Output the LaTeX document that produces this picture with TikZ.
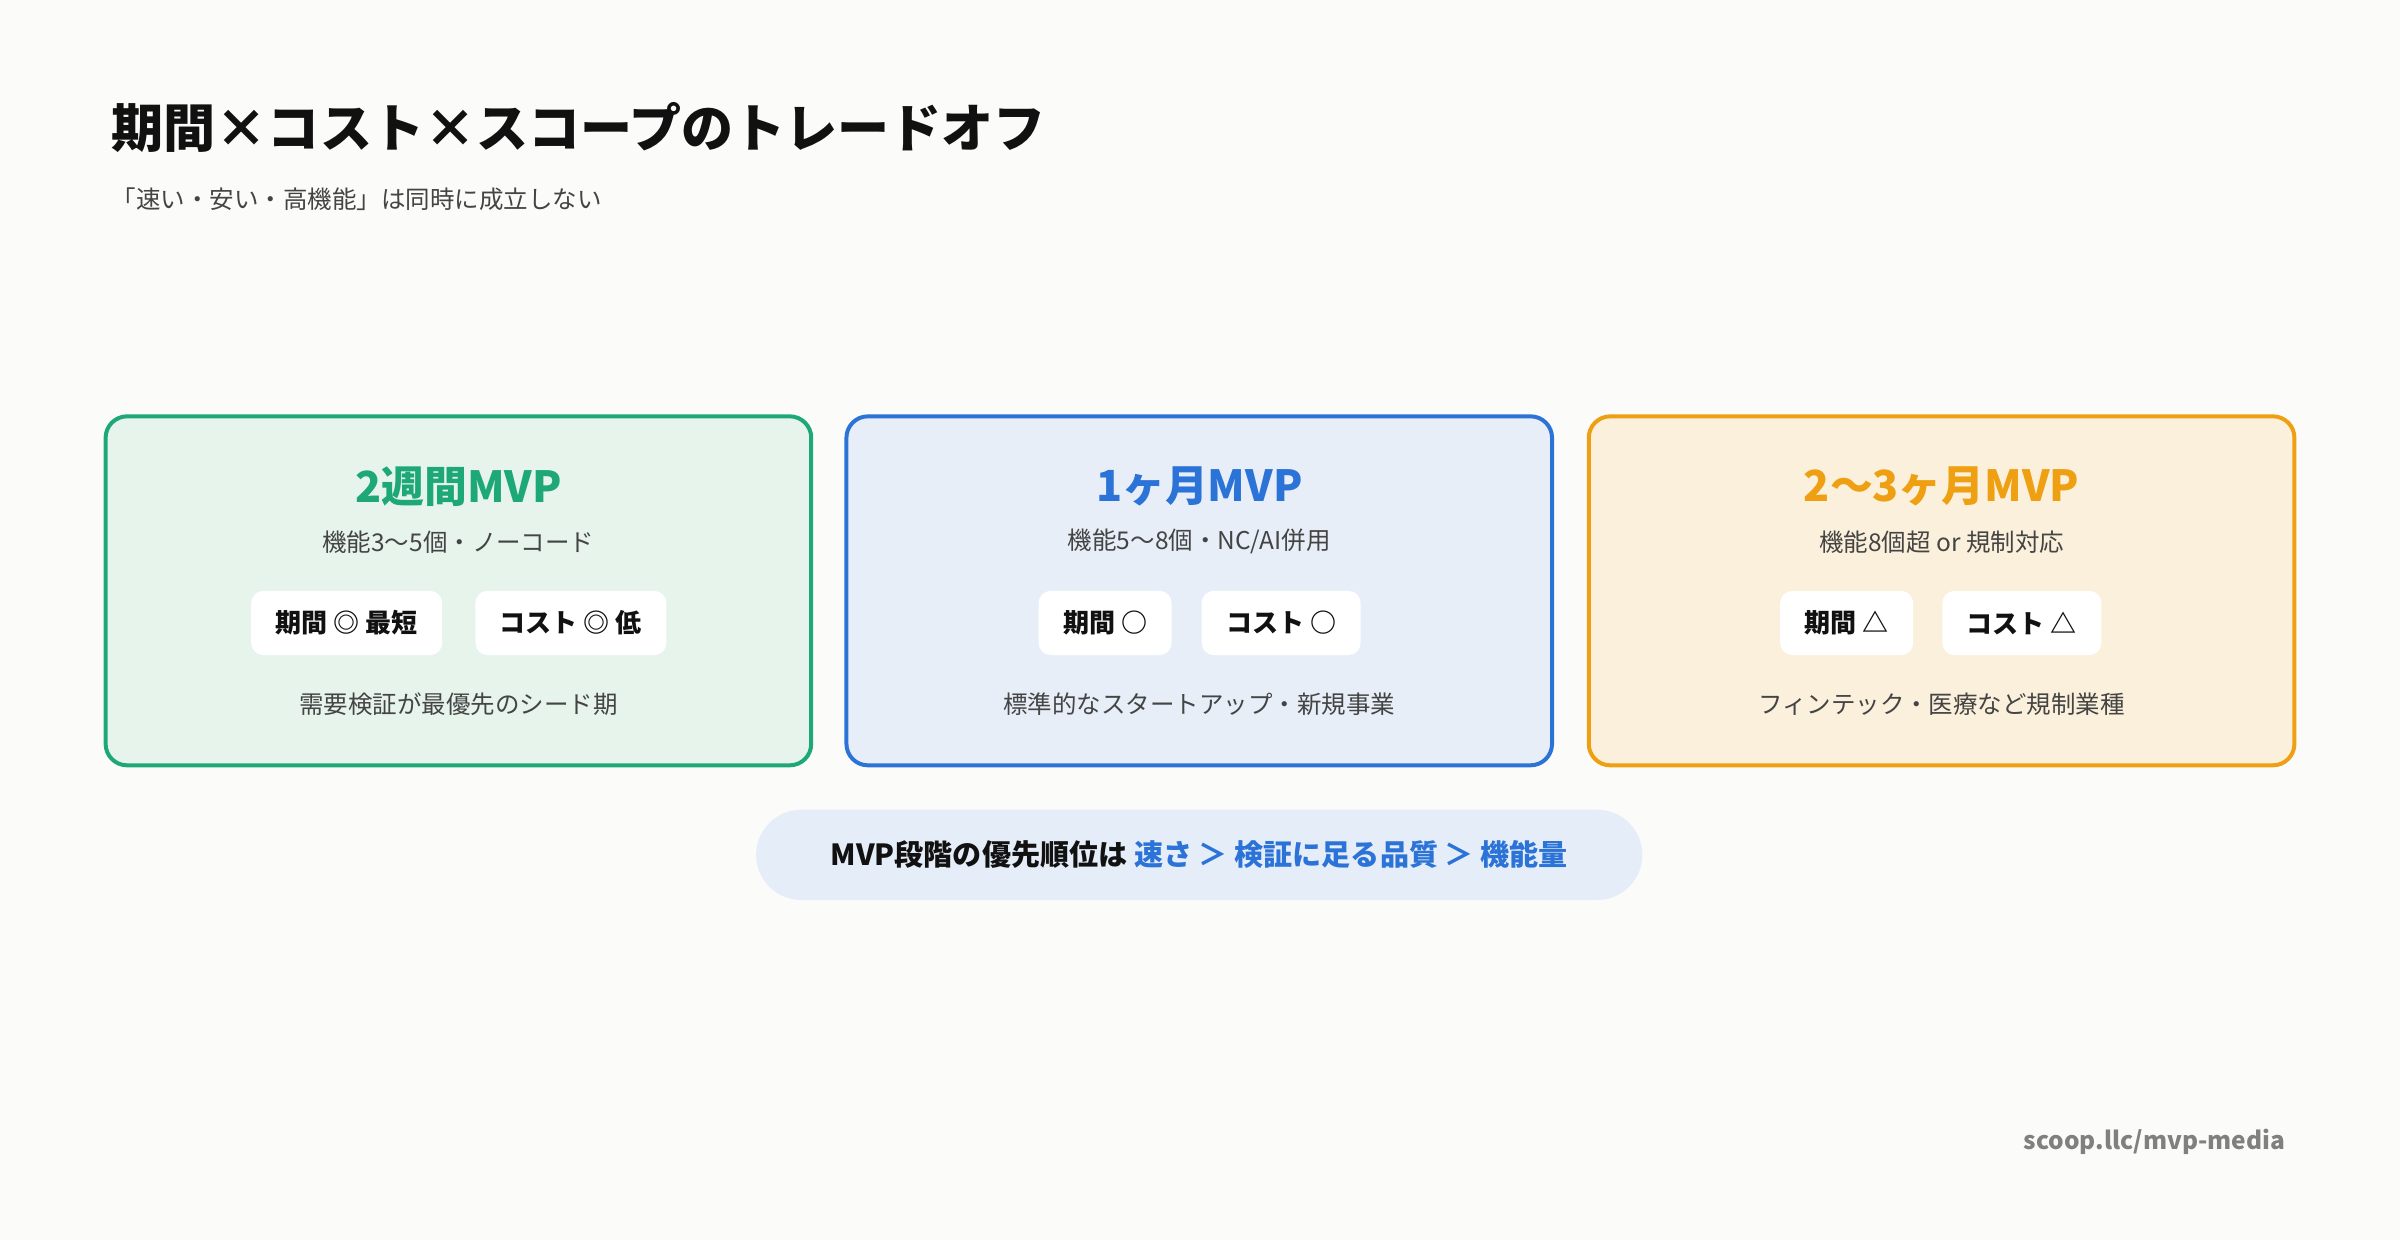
\documentclass[tikz,border=0pt]{standalone}
\usepackage{fontspec}
\setmainfont{Noto Sans CJK JP}
\usetikzlibrary{positioning}
\definecolor{bg}{HTML}{FBFBF9}
\definecolor{gr}{HTML}{1EA878}\definecolor{grf}{HTML}{E6F4EC}
\definecolor{bl}{HTML}{2B73D6}\definecolor{blf}{HTML}{E7EEF8}
\definecolor{or}{HTML}{EEA012}\definecolor{orf}{HTML}{FBF0DB}
\definecolor{tx}{HTML}{444444}\definecolor{ttl}{HTML}{111111}
\begin{document}
\begin{tikzpicture}[x=0.5pt,y=-0.5pt,
 card/.style={draw=#1,line width=1.3pt,rounded corners=7pt},
 ctitle/.style={font=\fontsize{14}{16}\selectfont\bfseries,text=#1},
 sub/.style={font=\fontsize{8}{10}\selectfont,text=tx},
 pill/.style={fill=white,rounded corners=4pt,minimum height=21pt,inner xsep=8pt,font=\fontsize{8.5}{10}\selectfont\bfseries,text=ttl}]
\fill[bg] (0,0) rectangle (1568,810);
\useasboundingbox (0,0) rectangle (1568,810);
\node[anchor=west,font=\fontsize{17}{20}\selectfont\bfseries,text=ttl] (title) at (66,83) {期間×コスト×スコープのトレードオフ};
\node[anchor=west,sub] (subt) at (66,130) {「速い・安い・高機能」は同時に成立しない};
% cards
\draw[card=gr,fill=grf] (69,272) rectangle (530,500);
\draw[card=bl,fill=blf] (553,272) rectangle (1014,500);
\draw[card=or,fill=orf] (1038,272) rectangle (1499,500);
\node[ctitle=gr] (t1) at (299.5,318) {2週間MVP};
\node[ctitle=bl] (t2) at (783.5,318) {1ヶ月MVP};
\node[ctitle=or] (t3) at (1268.5,318) {2〜3ヶ月MVP};
\node[sub] (s1) at (299.5,354) {機能3〜5個・ノーコード};
\node[sub] (s2) at (783.5,354) {機能5〜8個・NC/AI併用};
\node[sub] (s3) at (1268.5,354) {機能8個超 or 規制対応};
\node[pill] (p1a) at (226.5,407) {期間 ◎ 最短};
\node[pill] (p1b) at (373,407) {コスト ◎ 低};
\node[pill] (p2a) at (722,407) {期間 ○};
\node[pill] (p2b) at (837,407) {コスト ○};
\node[pill] (p3a) at (1206.5,407) {期間 △};
\node[pill] (p3b) at (1321,407) {コスト △};
\node[sub] (b1) at (299.5,460) {需要検証が最優先のシード期};
\node[sub] (b2) at (783.5,460) {標準的なスタートアップ・新規事業};
\node[sub] (b3) at (1268.5,460) {フィンテック・医療など規制業種};
\fill[blf!90!bl!60!white,rounded corners=14.75pt] (494,529) rectangle (1073,588);
\node[font=\fontsize{9.5}{11}\selectfont\bfseries,text=ttl] (banner) at (783.5,558) {MVP段階の優先順位は \textcolor{bl}{速さ ＞ 検証に足る品質 ＞ 機能量}};
\node[anchor=east,font=\fontsize{8}{10}\selectfont\bfseries,text=gray] (foot) at (1500,746) {scoop.llc/mvp-media};
\end{tikzpicture}
\end{document}
